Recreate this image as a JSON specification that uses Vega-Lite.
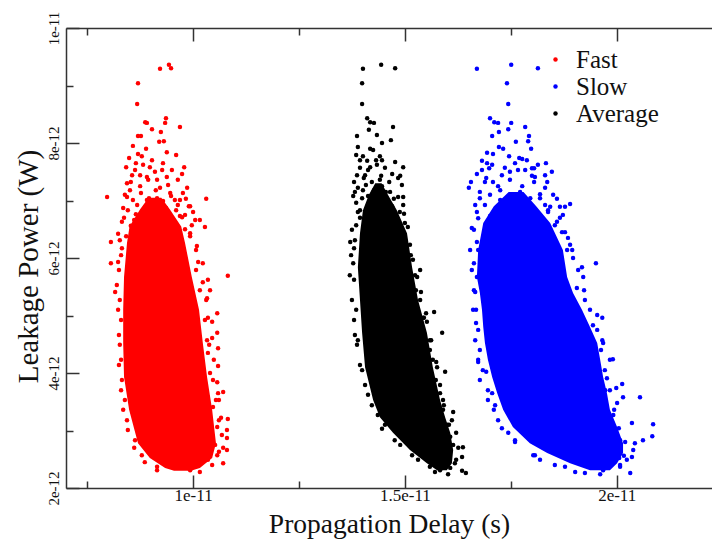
{
"$schema": "https://vega.github.io/schema/vega-lite/v6.json",
"width": 646, "height": 460,
"autosize": {"type": "none"},
"padding": {"left": 66, "top": 28, "right": 0, "bottom": 55},
"background": "white",
"config": {"view": {"stroke": null}, "font": "Liberation Serif",
 "axis": {"domainColor": "#333", "domainWidth": 1.5, "tickColor": "#333", "tickWidth": 1.5, "labelFont": "Liberation Serif", "titleFont": "Liberation Serif", "labelColor": "#111", "titleColor": "#111", "grid": false, "labelFontSize": 17, "titleFontSize": 27.5, "titleFontWeight": "normal"}},
"datasets": {
"core": [
{"s":"Fast","y":2.30,"xl":9.55,"xr":9.95},{"s":"Fast","y":2.35,"xl":9.34,"xr":10.16},{"s":"Fast","y":2.52,"xl":8.98,"xr":10.45},{"s":"Fast","y":2.78,"xl":8.70,"xr":10.54},{"s":"Fast","y":3.36,"xl":8.49,"xr":10.45},{"s":"Fast","y":3.93,"xl":8.37,"xr":10.33},{"s":"Fast","y":4.52,"xl":8.35,"xr":10.23},{"s":"Fast","y":5.10,"xl":8.35,"xr":10.14},{"s":"Fast","y":5.67,"xl":8.37,"xr":9.97},{"s":"Fast","y":6.26,"xl":8.44,"xr":9.81},{"s":"Fast","y":6.55,"xl":8.50,"xr":9.72},{"s":"Fast","y":6.85,"xl":8.75,"xr":9.45},{"s":"Fast","y":7.05,"xl":8.95,"xr":9.25},
{"s":"Average","y":2.31,"xl":15.76,"xr":15.99},{"s":"Average","y":2.43,"xl":15.52,"xr":16.11},{"s":"Average","y":2.66,"xl":15.12,"xr":16.14},{"s":"Average","y":2.96,"xl":14.72,"xr":16.07},{"s":"Average","y":3.23,"xl":14.41,"xr":15.95},{"s":"Average","y":3.53,"xl":14.25,"xr":15.83},{"s":"Average","y":4.10,"xl":14.06,"xr":15.66},{"s":"Average","y":4.70,"xl":13.99,"xr":15.52},{"s":"Average","y":5.27,"xl":13.94,"xr":15.31},{"s":"Average","y":5.84,"xl":13.89,"xr":15.17},{"s":"Average","y":6.43,"xl":13.94,"xr":15.05},{"s":"Average","y":6.83,"xl":14.01,"xr":14.81},{"s":"Average","y":7.10,"xl":14.15,"xr":14.60},{"s":"Average","y":7.30,"xl":14.30,"xr":14.45},
{"s":"Slow","y":2.31,"xl":19.37,"xr":19.84},{"s":"Slow","y":2.43,"xl":18.90,"xr":20.01},{"s":"Slow","y":2.61,"xl":18.36,"xr":20.15},{"s":"Slow","y":2.78,"xl":17.95,"xr":20.15},{"s":"Slow","y":3.06,"xl":17.55,"xr":20.01},{"s":"Slow","y":3.36,"xl":17.32,"xr":19.84},{"s":"Slow","y":3.65,"xl":17.18,"xr":19.77},{"s":"Slow","y":3.93,"xl":17.06,"xr":19.68},{"s":"Slow","y":4.23,"xl":16.96,"xr":19.61},{"s":"Slow","y":4.52,"xl":16.89,"xr":19.54},{"s":"Slow","y":4.80,"xl":16.85,"xr":19.37},{"s":"Slow","y":5.10,"xl":16.82,"xr":19.18},{"s":"Slow","y":5.39,"xl":16.77,"xr":18.97},{"s":"Slow","y":5.67,"xl":16.70,"xr":18.83},{"s":"Slow","y":6.14,"xl":16.73,"xr":18.73},{"s":"Slow","y":6.61,"xl":16.85,"xr":18.43},{"s":"Slow","y":6.90,"xl":17.10,"xr":18.10},{"s":"Slow","y":7.15,"xl":17.45,"xr":17.80}
],
"pts": [
{"s":"Fast","x":9.22,"y":9.29},{"s":"Fast","x":9.43,"y":9.36},{"s":"Fast","x":9.48,"y":9.30},{"s":"Fast","x":8.70,"y":9.04},{"s":"Fast","x":8.68,"y":8.68},{"s":"Fast","x":8.87,"y":8.36},{"s":"Fast","x":8.91,"y":8.35},{"s":"Fast","x":9.36,"y":8.43},{"s":"Fast","x":9.34,"y":8.35},{"s":"Fast","x":9.03,"y":8.24},{"s":"Fast","x":9.24,"y":8.19},{"s":"Fast","x":9.69,"y":8.28},{"s":"Fast","x":8.70,"y":8.12},{"s":"Fast","x":8.77,"y":8.12},{"s":"Fast","x":9.31,"y":8.03},{"s":"Fast","x":9.20,"y":8.02},{"s":"Fast","x":8.58,"y":7.95},{"s":"Fast","x":8.89,"y":7.90},{"s":"Fast","x":9.38,"y":7.84},{"s":"Fast","x":9.60,"y":7.79},{"s":"Fast","x":8.49,"y":7.74},{"s":"Fast","x":8.70,"y":7.81},{"s":"Fast","x":8.79,"y":7.77},{"s":"Fast","x":9.03,"y":7.70},{"s":"Fast","x":8.65,"y":7.65},{"s":"Fast","x":8.42,"y":7.58},{"s":"Fast","x":8.98,"y":7.58},{"s":"Fast","x":9.27,"y":7.53},{"s":"Fast","x":9.79,"y":7.58},{"s":"Fast","x":9.74,"y":7.46},{"s":"Fast","x":8.56,"y":7.44},{"s":"Fast","x":8.75,"y":7.44},{"s":"Fast","x":8.91,"y":7.41},{"s":"Fast","x":9.38,"y":7.41},{"s":"Fast","x":8.44,"y":7.30},{"s":"Fast","x":9.15,"y":7.36},{"s":"Fast","x":9.86,"y":7.22},{"s":"Fast","x":8.51,"y":7.18},{"s":"Fast","x":9.46,"y":7.13},{"s":"Fast","x":7.97,"y":7.06},{"s":"Fast","x":10.31,"y":7.03},{"s":"Fast","x":9.69,"y":7.01},{"s":"Fast","x":9.93,"y":6.90},{"s":"Fast","x":8.35,"y":6.87},{"s":"Fast","x":9.74,"y":6.71},{"s":"Fast","x":9.97,"y":6.57},{"s":"Fast","x":10.16,"y":6.66},{"s":"Fast","x":8.23,"y":6.42},{"s":"Fast","x":8.06,"y":6.28},{"s":"Fast","x":9.93,"y":6.43},{"s":"Fast","x":10.09,"y":6.21},{"s":"Fast","x":10.28,"y":6.54},{"s":"Fast","x":8.06,"y":5.91},{"s":"Fast","x":10.23,"y":5.91},{"s":"Fast","x":8.16,"y":5.41},{"s":"Fast","x":10.82,"y":5.69},{"s":"Fast","x":10.35,"y":5.62},{"s":"Fast","x":10.40,"y":5.44},{"s":"Fast","x":10.33,"y":5.30},{"s":"Fast","x":10.57,"y":5.04},{"s":"Fast","x":10.45,"y":4.89},{"s":"Fast","x":10.57,"y":4.70},{"s":"Fast","x":10.59,"y":4.43},{"s":"Fast","x":10.33,"y":4.57},{"s":"Fast","x":10.35,"y":4.35},{"s":"Fast","x":10.59,"y":4.12},{"s":"Fast","x":10.40,"y":4.00},{"s":"Fast","x":10.71,"y":3.67},{"s":"Fast","x":10.59,"y":3.65},{"s":"Fast","x":10.47,"y":3.41},{"s":"Fast","x":10.82,"y":3.20},{"s":"Fast","x":10.57,"y":3.06},{"s":"Fast","x":10.80,"y":3.01},{"s":"Fast","x":10.80,"y":2.87},{"s":"Fast","x":10.71,"y":2.70},{"s":"Fast","x":10.80,"y":2.66},{"s":"Fast","x":10.57,"y":2.57},{"s":"Fast","x":10.71,"y":2.43},{"s":"Fast","x":8.32,"y":3.88},{"s":"Fast","x":9.15,"y":2.37},{"s":"Fast","x":9.93,"y":2.31},{"s":"Fast","x":9.69,"y":2.35},{"s":"Fast","x":9.46,"y":2.37},
{"s":"Fast","x":8.39,"y":7.10},{"s":"Fast","x":8.58,"y":7.01},{"s":"Fast","x":8.77,"y":7.13},{"s":"Fast","x":8.96,"y":7.04},{"s":"Fast","x":9.12,"y":7.18},{"s":"Fast","x":9.29,"y":6.99},{"s":"Fast","x":9.48,"y":7.08},{"s":"Fast","x":9.64,"y":6.92},{"s":"Fast","x":9.83,"y":7.03},{"s":"Fast","x":8.46,"y":6.83},{"s":"Fast","x":8.65,"y":6.76},{"s":"Fast","x":8.87,"y":6.89},{"s":"Fast","x":9.05,"y":6.80},{"s":"Fast","x":9.22,"y":6.90},{"s":"Fast","x":9.41,"y":6.78},{"s":"Fast","x":9.60,"y":6.83},{"s":"Fast","x":9.81,"y":6.75},{"s":"Fast","x":10.00,"y":6.80},{"s":"Fast","x":8.32,"y":6.63},{"s":"Fast","x":8.53,"y":6.56},{"s":"Fast","x":9.60,"y":6.59},{"s":"Fast","x":9.81,"y":6.50},{"s":"Fast","x":8.27,"y":6.31},{"s":"Fast","x":8.30,"y":6.05},{"s":"Fast","x":8.25,"y":5.79},{"s":"Fast","x":8.27,"y":5.27},{"s":"Fast","x":8.30,"y":4.92},{"s":"Fast","x":8.27,"y":4.49},{"s":"Fast","x":8.30,"y":4.23},{"s":"Fast","x":10.07,"y":5.79},{"s":"Fast","x":10.16,"y":5.44},{"s":"Fast","x":10.28,"y":4.92},{"s":"Fast","x":10.38,"y":4.49},{"s":"Fast","x":10.47,"y":3.88},{"s":"Fast","x":10.54,"y":3.53},{"s":"Fast","x":10.61,"y":3.18},{"s":"Fast","x":10.52,"y":2.75},{"s":"Fast","x":10.35,"y":2.49},{"s":"Fast","x":8.79,"y":2.57},{"s":"Fast","x":8.63,"y":2.83},{"s":"Fast","x":8.44,"y":3.18},{"s":"Fast","x":8.39,"y":3.53},
{"s":"Fast","x":8.63,"y":7.53},{"s":"Fast","x":8.82,"y":7.62},{"s":"Fast","x":9.10,"y":7.50},{"s":"Fast","x":9.29,"y":7.65},{"s":"Fast","x":9.50,"y":7.53},{"s":"Fast","x":9.64,"y":7.36},{"s":"Fast","x":8.53,"y":7.32},{"s":"Fast","x":8.75,"y":7.25},{"s":"Fast","x":8.94,"y":7.36},{"s":"Fast","x":9.22,"y":7.22},{"s":"Fast","x":9.41,"y":7.27},{"s":"Fast","x":9.76,"y":7.13},{"s":"Fast","x":8.44,"y":7.06},{"s":"Fast","x":8.68,"y":6.92},{"s":"Fast","x":8.91,"y":7.01},{"s":"Fast","x":9.15,"y":7.04},{"s":"Fast","x":9.36,"y":6.87},{"s":"Fast","x":9.57,"y":7.01},{"s":"Fast","x":9.90,"y":6.90},{"s":"Fast","x":10.05,"y":6.66},{"s":"Fast","x":8.37,"y":6.70},{"s":"Fast","x":8.61,"y":6.66},{"s":"Fast","x":8.77,"y":6.59},{"s":"Fast","x":9.03,"y":6.66},{"s":"Fast","x":9.22,"y":6.54},{"s":"Fast","x":9.46,"y":6.63},{"s":"Fast","x":9.69,"y":6.73},{"s":"Fast","x":9.93,"y":6.38},{"s":"Fast","x":10.07,"y":6.14},{"s":"Fast","x":8.42,"y":6.38},{"s":"Fast","x":8.32,"y":6.17},{"s":"Fast","x":8.23,"y":5.93},{"s":"Fast","x":8.20,"y":5.53},{"s":"Fast","x":8.23,"y":5.10},{"s":"Fast","x":8.25,"y":4.66},{"s":"Fast","x":8.25,"y":4.14},{"s":"Fast","x":8.30,"y":3.70},{"s":"Fast","x":8.35,"y":3.36},{"s":"Fast","x":8.46,"y":3.01},{"s":"Fast","x":8.61,"y":2.70},{"s":"Fast","x":8.86,"y":2.45},{"s":"Fast","x":9.15,"y":2.31},{"s":"Fast","x":10.12,"y":5.93},{"s":"Fast","x":10.23,"y":5.58},{"s":"Fast","x":10.31,"y":5.27},{"s":"Fast","x":10.35,"y":4.96},{"s":"Fast","x":10.45,"y":4.61},{"s":"Fast","x":10.49,"y":4.23},{"s":"Fast","x":10.57,"y":3.84},{"s":"Fast","x":10.61,"y":3.53},{"s":"Fast","x":10.66,"y":3.22},{"s":"Fast","x":10.68,"y":2.92},{"s":"Fast","x":10.61,"y":2.63},{"s":"Fast","x":10.45,"y":2.40},{"s":"Fast","x":10.16,"y":2.28},
{"s":"Slow","x":16.70,"y":9.29},{"s":"Slow","x":17.51,"y":9.36},{"s":"Slow","x":18.14,"y":9.30},{"s":"Slow","x":17.41,"y":9.04},{"s":"Slow","x":17.44,"y":8.68},{"s":"Slow","x":17.01,"y":8.43},{"s":"Slow","x":17.11,"y":8.36},{"s":"Slow","x":17.20,"y":8.35},{"s":"Slow","x":17.51,"y":8.35},{"s":"Slow","x":17.84,"y":8.28},{"s":"Slow","x":17.44,"y":8.24},{"s":"Slow","x":17.22,"y":8.19},{"s":"Slow","x":17.06,"y":8.12},{"s":"Slow","x":17.93,"y":8.12},{"s":"Slow","x":17.91,"y":8.03},{"s":"Slow","x":17.62,"y":8.02},{"s":"Slow","x":17.22,"y":7.93},{"s":"Slow","x":17.32,"y":7.90},{"s":"Slow","x":17.98,"y":7.90},{"s":"Slow","x":16.94,"y":7.83},{"s":"Slow","x":17.08,"y":7.81},{"s":"Slow","x":17.46,"y":7.77},{"s":"Slow","x":17.70,"y":7.74},{"s":"Slow","x":17.77,"y":7.72},{"s":"Slow","x":17.88,"y":7.70},{"s":"Slow","x":16.82,"y":7.69},{"s":"Slow","x":16.94,"y":7.65},{"s":"Slow","x":18.33,"y":7.65},{"s":"Slow","x":18.00,"y":7.56},{"s":"Slow","x":18.05,"y":7.56},{"s":"Slow","x":16.99,"y":7.56},{"s":"Slow","x":17.48,"y":7.50},{"s":"Slow","x":17.67,"y":7.53},{"s":"Slow","x":18.47,"y":7.50},{"s":"Slow","x":16.70,"y":7.46},{"s":"Slow","x":17.29,"y":7.44},{"s":"Slow","x":18.00,"y":7.43},{"s":"Slow","x":18.07,"y":7.41},{"s":"Slow","x":18.31,"y":7.44},{"s":"Slow","x":16.92,"y":7.39},{"s":"Slow","x":17.08,"y":7.32},{"s":"Slow","x":18.36,"y":7.32},{"s":"Slow","x":16.56,"y":7.32},{"s":"Slow","x":16.51,"y":7.22},{"s":"Slow","x":18.59,"y":7.03},{"s":"Slow","x":18.66,"y":6.89},{"s":"Slow","x":18.78,"y":6.89},{"s":"Slow","x":18.90,"y":6.94},{"s":"Slow","x":16.66,"y":6.92},{"s":"Slow","x":18.43,"y":6.89},{"s":"Slow","x":18.38,"y":6.83},{"s":"Slow","x":18.59,"y":6.63},{"s":"Slow","x":18.73,"y":6.75},{"s":"Slow","x":18.78,"y":6.45},{"s":"Slow","x":16.70,"y":6.28},{"s":"Slow","x":16.73,"y":6.14},{"s":"Slow","x":18.85,"y":6.35},{"s":"Slow","x":18.83,"y":6.14},{"s":"Slow","x":18.97,"y":6.00},{"s":"Slow","x":19.18,"y":5.84},{"s":"Slow","x":19.51,"y":5.91},{"s":"Slow","x":19.21,"y":5.67},{"s":"Slow","x":19.06,"y":5.48},{"s":"Slow","x":16.66,"y":5.41},{"s":"Slow","x":16.68,"y":4.87},{"s":"Slow","x":19.54,"y":5.01},{"s":"Slow","x":19.66,"y":4.96},{"s":"Slow","x":19.68,"y":4.52},{"s":"Slow","x":19.66,"y":4.57},{"s":"Slow","x":19.84,"y":4.23},{"s":"Slow","x":19.91,"y":4.24},{"s":"Slow","x":16.73,"y":4.23},{"s":"Slow","x":16.92,"y":4.02},{"s":"Slow","x":19.77,"y":3.91},{"s":"Slow","x":20.13,"y":3.81},{"s":"Slow","x":19.99,"y":3.74},{"s":"Slow","x":20.15,"y":3.58},{"s":"Slow","x":20.55,"y":3.58},{"s":"Slow","x":20.01,"y":3.48},{"s":"Slow","x":20.36,"y":3.13},{"s":"Slow","x":20.86,"y":3.11},{"s":"Slow","x":20.84,"y":2.90},{"s":"Slow","x":20.62,"y":2.83},{"s":"Slow","x":20.43,"y":2.78},{"s":"Slow","x":20.39,"y":2.66},{"s":"Slow","x":20.36,"y":2.54},{"s":"Slow","x":20.24,"y":2.49},{"s":"Slow","x":20.32,"y":2.26},{"s":"Slow","x":20.08,"y":2.37},{"s":"Slow","x":19.68,"y":2.31},{"s":"Slow","x":18.03,"y":2.57},{"s":"Slow","x":17.44,"y":2.96},{"s":"Slow","x":17.13,"y":3.44},{"s":"Slow","x":17.06,"y":3.65},{"s":"Slow","x":16.63,"y":5.91},{"s":"Slow","x":16.70,"y":5.67},{"s":"Slow","x":16.73,"y":4.19},
{"s":"Slow","x":16.77,"y":7.15},{"s":"Slow","x":17.01,"y":7.10},{"s":"Slow","x":17.25,"y":7.18},{"s":"Slow","x":17.48,"y":7.08},{"s":"Slow","x":17.72,"y":7.15},{"s":"Slow","x":17.96,"y":7.04},{"s":"Slow","x":18.19,"y":7.11},{"s":"Slow","x":16.89,"y":6.92},{"s":"Slow","x":17.13,"y":6.83},{"s":"Slow","x":17.36,"y":6.94},{"s":"Slow","x":17.60,"y":6.82},{"s":"Slow","x":17.84,"y":6.90},{"s":"Slow","x":18.07,"y":6.80},{"s":"Slow","x":18.31,"y":6.92},{"s":"Slow","x":16.73,"y":6.69},{"s":"Slow","x":18.54,"y":6.57},{"s":"Slow","x":16.63,"y":6.49},{"s":"Slow","x":18.90,"y":6.23},{"s":"Slow","x":16.61,"y":5.10},{"s":"Slow","x":16.66,"y":4.57},{"s":"Slow","x":16.77,"y":3.88},{"s":"Slow","x":16.96,"y":3.53},{"s":"Slow","x":17.20,"y":3.18},{"s":"Slow","x":17.60,"y":2.83},{"s":"Slow","x":18.19,"y":2.49},{"s":"Slow","x":19.25,"y":5.27},{"s":"Slow","x":19.44,"y":4.83},{"s":"Slow","x":19.73,"y":3.70},{"s":"Slow","x":19.92,"y":3.27},{"s":"Slow","x":20.08,"y":2.83},{"s":"Slow","x":20.06,"y":2.52},{"s":"Slow","x":18.78,"y":2.37},{"s":"Slow","x":19.25,"y":2.26},
{"s":"Slow","x":16.82,"y":7.53},{"s":"Slow","x":17.06,"y":7.62},{"s":"Slow","x":17.36,"y":7.57},{"s":"Slow","x":17.60,"y":7.65},{"s":"Slow","x":17.84,"y":7.53},{"s":"Slow","x":18.14,"y":7.62},{"s":"Slow","x":16.89,"y":7.32},{"s":"Slow","x":17.20,"y":7.25},{"s":"Slow","x":17.48,"y":7.36},{"s":"Slow","x":17.77,"y":7.25},{"s":"Slow","x":18.05,"y":7.32},{"s":"Slow","x":18.31,"y":7.22},{"s":"Slow","x":16.77,"y":7.04},{"s":"Slow","x":17.25,"y":7.01},{"s":"Slow","x":17.53,"y":7.08},{"s":"Slow","x":17.91,"y":7.01},{"s":"Slow","x":18.19,"y":7.04},{"s":"Slow","x":18.50,"y":7.10},{"s":"Slow","x":16.70,"y":6.80},{"s":"Slow","x":17.01,"y":6.73},{"s":"Slow","x":17.72,"y":6.77},{"s":"Slow","x":18.00,"y":6.70},{"s":"Slow","x":18.38,"y":6.80},{"s":"Slow","x":18.66,"y":6.70},{"s":"Slow","x":16.58,"y":6.52},{"s":"Slow","x":18.71,"y":6.45},{"s":"Slow","x":16.54,"y":6.14},{"s":"Slow","x":18.95,"y":6.14},{"s":"Slow","x":16.58,"y":5.79},{"s":"Slow","x":19.09,"y":5.79},{"s":"Slow","x":16.63,"y":5.44},{"s":"Slow","x":19.23,"y":5.44},{"s":"Slow","x":16.68,"y":5.10},{"s":"Slow","x":19.37,"y":5.10},{"s":"Slow","x":16.73,"y":4.75},{"s":"Slow","x":19.54,"y":4.75},{"s":"Slow","x":16.77,"y":4.40},{"s":"Slow","x":19.63,"y":4.40},{"s":"Slow","x":16.84,"y":4.05},{"s":"Slow","x":19.72,"y":4.05},{"s":"Slow","x":16.96,"y":3.70},{"s":"Slow","x":19.84,"y":3.70},{"s":"Slow","x":17.10,"y":3.36},{"s":"Slow","x":19.94,"y":3.36},{"s":"Slow","x":17.29,"y":3.04},{"s":"Slow","x":20.05,"y":3.04},{"s":"Slow","x":17.60,"y":2.80},{"s":"Slow","x":20.20,"y":2.80},{"s":"Slow","x":18.07,"y":2.57},{"s":"Slow","x":20.17,"y":2.56},{"s":"Slow","x":18.54,"y":2.40},{"s":"Slow","x":20.08,"y":2.40},{"s":"Slow","x":19.02,"y":2.28},{"s":"Slow","x":19.61,"y":2.24},
{"s":"Average","x":14.01,"y":9.29},{"s":"Average","x":14.44,"y":9.36},{"s":"Average","x":14.77,"y":9.30},{"s":"Average","x":13.99,"y":9.04},{"s":"Average","x":13.99,"y":8.68},{"s":"Average","x":14.11,"y":8.43},{"s":"Average","x":14.18,"y":8.36},{"s":"Average","x":14.27,"y":8.35},{"s":"Average","x":14.72,"y":8.28},{"s":"Average","x":14.15,"y":8.23},{"s":"Average","x":13.87,"y":8.12},{"s":"Average","x":14.34,"y":8.14},{"s":"Average","x":14.67,"y":8.05},{"s":"Average","x":14.46,"y":8.00},{"s":"Average","x":13.89,"y":7.93},{"s":"Average","x":14.18,"y":7.90},{"s":"Average","x":14.25,"y":7.88},{"s":"Average","x":13.85,"y":7.79},{"s":"Average","x":14.01,"y":7.77},{"s":"Average","x":14.41,"y":7.77},{"s":"Average","x":14.46,"y":7.70},{"s":"Average","x":14.11,"y":7.69},{"s":"Average","x":13.94,"y":7.57},{"s":"Average","x":14.18,"y":7.58},{"s":"Average","x":14.34,"y":7.62},{"s":"Average","x":14.96,"y":7.58},{"s":"Average","x":14.70,"y":7.46},{"s":"Average","x":14.89,"y":7.43},{"s":"Average","x":13.87,"y":7.44},{"s":"Average","x":14.06,"y":7.44},{"s":"Average","x":13.80,"y":7.32},{"s":"Average","x":14.41,"y":7.36},{"s":"Average","x":14.93,"y":7.27},{"s":"Average","x":13.78,"y":7.08},{"s":"Average","x":14.01,"y":7.18},{"s":"Average","x":14.84,"y":7.06},{"s":"Average","x":14.96,"y":7.06},{"s":"Average","x":14.96,"y":6.92},{"s":"Average","x":13.85,"y":6.96},{"s":"Average","x":13.94,"y":6.83},{"s":"Average","x":15.00,"y":6.61},{"s":"Average","x":15.07,"y":6.54},{"s":"Average","x":13.71,"y":6.28},{"s":"Average","x":13.80,"y":6.17},{"s":"Average","x":13.78,"y":5.91},{"s":"Average","x":15.19,"y":5.97},{"s":"Average","x":15.36,"y":5.79},{"s":"Average","x":15.29,"y":5.67},{"s":"Average","x":15.38,"y":5.41},{"s":"Average","x":15.69,"y":5.06},{"s":"Average","x":15.50,"y":5.04},{"s":"Average","x":15.52,"y":4.89},{"s":"Average","x":13.82,"y":4.66},{"s":"Average","x":15.88,"y":4.70},{"s":"Average","x":15.59,"y":4.57},{"s":"Average","x":15.66,"y":4.23},{"s":"Average","x":15.95,"y":4.02},{"s":"Average","x":15.76,"y":4.10},{"s":"Average","x":15.83,"y":3.65},{"s":"Average","x":15.90,"y":3.36},{"s":"Average","x":16.14,"y":3.32},{"s":"Average","x":16.11,"y":3.18},{"s":"Average","x":14.46,"y":3.03},{"s":"Average","x":16.07,"y":2.89},{"s":"Average","x":16.21,"y":2.96},{"s":"Average","x":16.26,"y":2.70},{"s":"Average","x":16.37,"y":2.71},{"s":"Average","x":16.35,"y":2.54},{"s":"Average","x":16.18,"y":2.43},{"s":"Average","x":16.07,"y":2.35},{"s":"Average","x":16.44,"y":2.26},{"s":"Average","x":15.83,"y":2.31},{"s":"Average","x":15.59,"y":2.37},{"s":"Average","x":16.35,"y":2.30},
{"s":"Average","x":13.89,"y":7.22},{"s":"Average","x":14.08,"y":7.27},{"s":"Average","x":14.27,"y":7.18},{"s":"Average","x":14.46,"y":7.25},{"s":"Average","x":14.65,"y":7.15},{"s":"Average","x":13.99,"y":7.04},{"s":"Average","x":14.18,"y":6.97},{"s":"Average","x":14.37,"y":7.08},{"s":"Average","x":14.56,"y":6.99},{"s":"Average","x":14.74,"y":7.03},{"s":"Average","x":13.89,"y":6.80},{"s":"Average","x":14.88,"y":6.80},{"s":"Average","x":13.85,"y":6.57},{"s":"Average","x":14.93,"y":6.49},{"s":"Average","x":13.82,"y":6.31},{"s":"Average","x":15.12,"y":6.23},{"s":"Average","x":13.80,"y":5.62},{"s":"Average","x":13.85,"y":5.10},{"s":"Average","x":15.26,"y":5.44},{"s":"Average","x":15.43,"y":4.96},{"s":"Average","x":15.59,"y":4.40},{"s":"Average","x":15.73,"y":3.88},{"s":"Average","x":15.90,"y":3.53},{"s":"Average","x":16.00,"y":3.10},{"s":"Average","x":13.89,"y":4.57},{"s":"Average","x":13.99,"y":4.05},{"s":"Average","x":14.13,"y":3.62},{"s":"Average","x":14.36,"y":3.27},{"s":"Average","x":14.76,"y":2.83},{"s":"Average","x":15.17,"y":2.57},
{"s":"Average","x":13.94,"y":7.70},{"s":"Average","x":14.13,"y":7.53},{"s":"Average","x":14.32,"y":7.70},{"s":"Average","x":14.53,"y":7.57},{"s":"Average","x":14.77,"y":7.67},{"s":"Average","x":14.03,"y":7.39},{"s":"Average","x":14.22,"y":7.32},{"s":"Average","x":14.44,"y":7.43},{"s":"Average","x":14.63,"y":7.32},{"s":"Average","x":14.84,"y":7.39},{"s":"Average","x":13.82,"y":7.15},{"s":"Average","x":14.13,"y":7.08},{"s":"Average","x":14.34,"y":6.96},{"s":"Average","x":14.55,"y":7.15},{"s":"Average","x":14.70,"y":6.90},{"s":"Average","x":13.94,"y":6.70},{"s":"Average","x":14.13,"y":6.63},{"s":"Average","x":14.44,"y":6.75},{"s":"Average","x":14.77,"y":6.66},{"s":"Average","x":14.98,"y":6.77},{"s":"Average","x":13.75,"y":6.49},{"s":"Average","x":15.00,"y":6.31},{"s":"Average","x":13.73,"y":6.05},{"s":"Average","x":15.14,"y":6.05},{"s":"Average","x":13.70,"y":5.70},{"s":"Average","x":15.24,"y":5.70},{"s":"Average","x":13.75,"y":5.27},{"s":"Average","x":15.36,"y":5.27},{"s":"Average","x":13.80,"y":4.92},{"s":"Average","x":15.45,"y":4.96},{"s":"Average","x":13.87,"y":4.49},{"s":"Average","x":15.62,"y":4.57},{"s":"Average","x":13.94,"y":4.14},{"s":"Average","x":15.74,"y":4.19},{"s":"Average","x":14.06,"y":3.79},{"s":"Average","x":15.83,"y":3.79},{"s":"Average","x":14.22,"y":3.44},{"s":"Average","x":15.92,"y":3.44},{"s":"Average","x":14.53,"y":3.10},{"s":"Average","x":16.04,"y":3.10},{"s":"Average","x":14.89,"y":2.75},{"s":"Average","x":16.14,"y":2.75},{"s":"Average","x":15.31,"y":2.49},{"s":"Average","x":16.21,"y":2.49},{"s":"Average","x":15.71,"y":2.28},{"s":"Average","x":16.02,"y":2.24}
]
},
"layer": [
{"data": {"name": "pts"}, "mark": {"type": "circle", "size": 20, "opacity": 1},
 "encoding": {
  "x": {"field": "x", "type": "quantitative", "scale": {"domain": [7, 22.25], "nice": false, "zero": false}, "axis": {"orient": "bottom", "values": [10, 15, 20], "tickSize": -13, "labelPadding": 12, "labelBaseline": "top", "labelExpr": "datum.value/10 + 'e-11'", "labelFlush": false, "title": "Propagation Delay (s)", "titleX": 323, "titleY": 44, "titleAlign": "center", "titleBaseline": "alphabetic"}},
  "y": {"field": "y", "type": "quantitative", "scale": {"domain": [2, 10], "nice": false, "zero": false}, "axis": {"orient": "left", "values": [2, 4, 6, 8, 10], "tickSize": -13, "labelPadding": 26, "labelFontSize": 15, "labelAngle": 270, "labelAlign": "center", "labelBaseline": "middle", "labelExpr": "datum.value == 10 ? '1e-11' : datum.value + 'e-12'", "labelFlush": false, "title": "Leakage Power (W)", "titleFontSize": 29, "titleX": -38, "titleY": 238, "titleAngle": 270, "titleAlign": "center", "titleBaseline": "middle"}},
  "color": {"field": "s", "type": "nominal", "scale": {"domain": ["Fast", "Slow", "Average"], "range": ["#ff0000", "#0000ff", "#000000"]}, "legend": {"orient": "none", "legendX": 477, "legendY": 19, "title": null, "labelFont": "Liberation Serif", "labelFontSize": 25, "labelColor": "#111", "symbolSize": 20, "symbolType": "circle", "symbolStrokeWidth": 0, "labelOffset": 8, "rowPadding": 1, "padding": 0}}}},
{"data": {"name": "core"}, "mark": {"type": "area", "orient": "horizontal", "opacity": 1},
 "encoding": {
  "y": {"field": "y", "type": "quantitative", "axis": null},
  "x": {"field": "xl", "type": "quantitative", "axis": null},
  "x2": {"field": "xr"},
  "fill": {"field": "s", "type": "nominal", "scale": {"domain": ["Fast", "Slow", "Average"], "range": ["#ff0000", "#0000ff", "#000000"]}, "legend": null}}},
{"data": {"values": [{}]}, "mark": {"type": "point", "opacity": 0},
 "encoding": {
  "x": {"datum": 10, "type": "quantitative", "axis": {"orient": "bottom", "values": [7.5, 12.5, 17.5], "tickSize": -7, "labels": false, "domain": false, "title": null}},
  "y": {"datum": 5, "type": "quantitative", "axis": {"orient": "left", "values": [3, 5, 7, 9], "tickSize": -7, "labels": false, "domain": false, "title": null}}}},
{"data": {"values": [{}]}, "mark": {"type": "point", "opacity": 0},
 "encoding": {
  "x": {"datum": 10, "type": "quantitative", "axis": {"orient": "top", "values": [10, 15, 20], "tickSize": -13, "labels": false, "domain": true, "title": null}},
  "y": {"datum": 5, "type": "quantitative", "axis": null}}},
{"data": {"values": [{}]}, "mark": {"type": "point", "opacity": 0},
 "encoding": {
  "x": {"datum": 10, "type": "quantitative", "axis": {"orient": "top", "values": [7.5, 12.5, 17.5], "tickSize": -7, "labels": false, "domain": false, "title": null}},
  "y": {"datum": 5, "type": "quantitative", "axis": null}}}
],
"resolve": {"axis": {"x": "independent", "y": "independent"}}
}
